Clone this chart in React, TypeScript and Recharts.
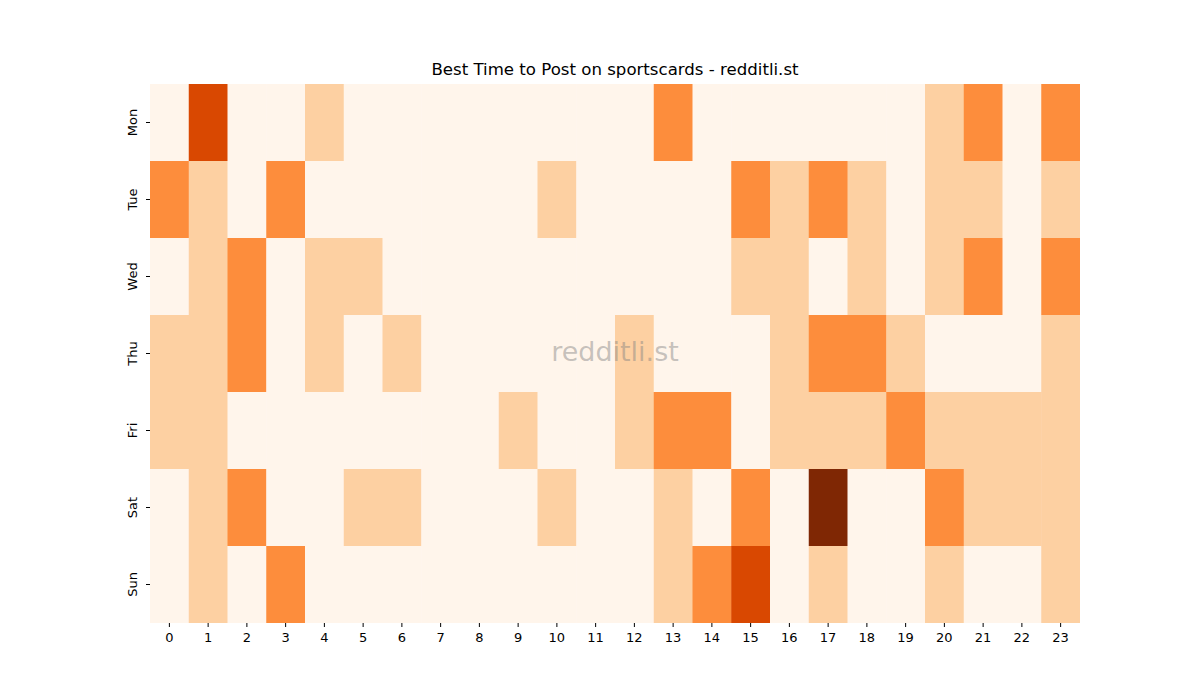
import React from "react";
import { ScatterChart, Scatter, XAxis, YAxis } from "recharts";

// Activity level per hour (0 = lowest … 4 = highest)
const HOURS = Array.from({ length: 24 }, (_, i) => i);
const DAYS = ["Mon", "Tue", "Wed", "Thu", "Fri", "Sat", "Sun"];

const MON = [0, 3, 0, 0, 1, 0, 0, 0, 0, 0, 0, 0, 0, 2, 0, 0, 0, 0, 0, 0, 1, 2, 0, 2];
const TUE = [2, 1, 0, 2, 0, 0, 0, 0, 0, 0, 1, 0, 0, 0, 0, 2, 1, 2, 1, 0, 1, 1, 0, 1];
const WED = [0, 1, 2, 0, 1, 1, 0, 0, 0, 0, 0, 0, 0, 0, 0, 1, 1, 0, 1, 0, 1, 2, 0, 2];
const THU = [1, 1, 2, 0, 1, 0, 1, 0, 0, 0, 0, 0, 1, 0, 0, 0, 1, 2, 2, 1, 0, 0, 0, 1];
const FRI = [1, 1, 0, 0, 0, 0, 0, 0, 0, 1, 0, 0, 1, 2, 2, 0, 1, 1, 1, 2, 1, 1, 1, 1];
const SAT = [0, 1, 2, 0, 0, 1, 1, 0, 0, 0, 1, 0, 0, 1, 0, 2, 0, 4, 0, 0, 2, 1, 1, 1];
const SUN = [0, 1, 0, 2, 0, 0, 0, 0, 0, 0, 0, 0, 0, 1, 2, 3, 0, 1, 0, 0, 1, 0, 0, 1];

const ROWS = [MON, TUE, WED, THU, FRI, SAT, SUN];

/* matplotlib "Oranges" steps */
const LEVEL_COLORS = ["#fff5eb", "#fdd0a2", "#fd8d3c", "#d94801", "#7f2704"];

const W = 1200;
const H = 700;
const PLOT_LEFT = 150;
const PLOT_RIGHT = 1080;
const PLOT_TOP = 84;
const PLOT_BOTTOM = 623;
const Y_AXIS_W = 50;
const X_AXIS_H = 30;
const CELL_W = (PLOT_RIGHT - PLOT_LEFT) / HOURS.length;
const CELL_H = (PLOT_BOTTOM - PLOT_TOP) / DAYS.length;
const FONT = "DejaVu Sans, sans-serif";

const cells = ROWS.flatMap((row, d) =>
  row.map((level, h) => ({ hour: h, day: d, level }))
);

function Cell(props: any) {
  const { cx, cy, payload } = props;
  return (
    <rect
      x={cx - CELL_W / 2}
      y={cy - CELL_H / 2}
      width={CELL_W + 0.5}
      height={CELL_H + 0.5}
      fill={LEVEL_COLORS[payload.level]}
      stroke="none"
    />
  );
}

function DayTick(props: any) {
  const { x, y, payload } = props;
  return (
    <g transform={`translate(${x},${y})`}>
      <text
        transform="rotate(-90)"
        textAnchor="middle"
        dy={-7}
        fontSize={13}
        fontFamily={FONT}
        fill="#000"
      >
        {DAYS[payload.value]}
      </text>
    </g>
  );
}

function HourTick(props: any) {
  const { x, y, payload } = props;
  return (
    <text x={x} y={y} dy={13} textAnchor="middle" fontSize={13} fontFamily={FONT} fill="#000">
      {payload.value}
    </text>
  );
}

export default function App() {
  return (
    <div style={{ position: "absolute", left: 0, top: 0, width: W, height: H, background: "#fff" }}>
      <ScatterChart
        width={W}
        height={H}
        margin={{
          top: PLOT_TOP,
          right: W - PLOT_RIGHT,
          bottom: H - PLOT_BOTTOM - X_AXIS_H,
          left: PLOT_LEFT - Y_AXIS_W,
        }}
      >
        <XAxis
          type="number"
          dataKey="hour"
          domain={[-0.5, 23.5]}
          ticks={HOURS}
          interval={0}
          height={X_AXIS_H}
          axisLine={false}
          tickSize={4}
          tickLine={{ stroke: "#000" }}
          tick={<HourTick />}
          allowDataOverflow
        />
        <YAxis
          type="number"
          dataKey="day"
          domain={[-0.5, 6.5]}
          reversed
          ticks={[0, 1, 2, 3, 4, 5, 6]}
          interval={0}
          width={Y_AXIS_W}
          axisLine={false}
          tickSize={4}
          tickLine={{ stroke: "#000" }}
          tick={<DayTick />}
          allowDataOverflow
        />
        <Scatter data={cells} shape={<Cell />} isAnimationActive={false} />
      </ScatterChart>
      <div
        style={{
          position: "absolute",
          left: PLOT_LEFT,
          width: PLOT_RIGHT - PLOT_LEFT,
          top: 60,
          textAlign: "center",
          fontFamily: FONT,
          fontSize: 16.6,
          color: "#000",
          pointerEvents: "none",
        }}
      >
        Best Time to Post on sportscards - redditli.st
      </div>
      <div
        style={{
          position: "absolute",
          left: PLOT_LEFT,
          width: PLOT_RIGHT - PLOT_LEFT,
          top: 336,
          textAlign: "center",
          fontFamily: FONT,
          fontSize: 27,
          color: "rgba(128, 128, 128, 0.45)",
          pointerEvents: "none",
        }}
      >
        redditli.st
      </div>
    </div>
  );
}
